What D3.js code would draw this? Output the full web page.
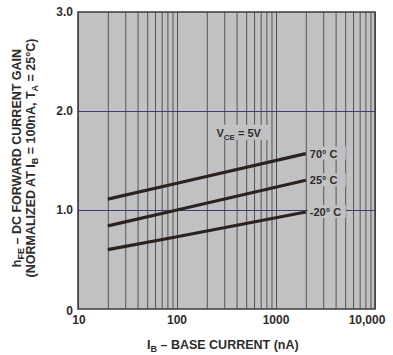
<!DOCTYPE html>
<html>
<head>
<meta charset="utf-8">
<script src="https://cdn.jsdelivr.net/npm/d3@7"></script>
<style>
  body { margin: 0; background: #fff; }
  text { font-family: "Liberation Sans", Arial, sans-serif; font-weight: bold; fill: #2e2c2c; }
</style>
</head>
<body>
<svg id="chart" width="393" height="355"></svg>
<script>
// base current (nA) and normalized gain for each temperature
const baseCurrent = [20, 100, 2000];
const gain70 = [1.11, 1.27, 1.57];
const gain25 = [0.84, 1.00, 1.30];
const gainMinus20 = [0.60, 0.73, 0.98];
const curveLabels = ['70° C', '25° C', '-20° C'];

const xTickValues = [10, 100, 1000, 10000];
const xTickLabels = ['10', '100', '1000', '10,000'];
const yTickValues = [0, 1, 2, 3];
const yTickLabels = ['0', '1.0', '2.0', '3.0'];

const margin = { left: 78, top: 12, right: 18, bottom: 46 };
const svg = d3.select('#chart');
const width = +svg.attr('width');
const height = +svg.attr('height');
const innerWidth = width - margin.left - margin.right;
const innerHeight = height - margin.top - margin.bottom;

// scales map straight to page coordinates
const x = d3.scaleLog().domain([10, 10000]).range([margin.left, margin.left + innerWidth]);
const y = d3.scaleLinear().domain([0, 3]).range([margin.top + innerHeight, margin.top]);

const plotBg = '#c1c0c3';
svg.append('rect')
  .attr('x', margin.left).attr('y', margin.top)
  .attr('width', innerWidth)
  .attr('height', innerHeight)
  .attr('fill', plotBg);

// log grid (every 1..9 per decade)
const xGrid = svg.append('g')
  .attr('transform', `translate(0,${margin.top + innerHeight})`)
  .call(d3.axisBottom(x).tickValues(x.ticks()).tickSize(-innerHeight).tickFormat(''));
xGrid.select('.domain').remove();
xGrid.selectAll('text').remove();
xGrid.selectAll('line').attr('stroke', '#48474b').attr('stroke-width', 0.9);

// horizontal lines at 1.0 and 2.0
const yGrid = svg.append('g')
  .attr('transform', `translate(${margin.left},0)`)
  .call(d3.axisLeft(y).tickValues([1, 2]).tickSize(-innerWidth).tickFormat(''));
yGrid.select('.domain').remove();
yGrid.selectAll('text').remove();
yGrid.selectAll('line').attr('stroke', '#3e3d6e').attr('stroke-width', 1.2);

svg.append('rect')
  .attr('x', margin.left).attr('y', margin.top)
  .attr('width', innerWidth)
  .attr('height', innerHeight)
  .attr('fill', 'none')
  .attr('stroke', '#3c3a40')
  .attr('stroke-width', 1.5);

// tick labels
svg.selectAll('text.ytick')
  .data(yTickValues)
  .enter().append('text')
  .attr('class', 'ytick')
  .attr('x', margin.left - 5)
  .attr('y', d => y(d) + 4 + (d === 0 ? 2 : 0))
  .attr('text-anchor', 'end')
  .style('font-size', '12px')
  .append('tspan')
  .text((d, i) => yTickLabels[i]);

svg.selectAll('text.xtick')
  .data(xTickValues)
  .enter().append('text')
  .attr('class', 'xtick')
  .attr('x', (d, i) => x(d) + (i === 0 ? 1 : 0) - (i === 3 ? 8 : 0))
  .attr('y', margin.top + innerHeight + 15)
  .attr('text-anchor', 'middle')
  .style('font-size', '12px')
  .append('tspan')
  .text((d, i) => xTickLabels[i]);

// curves
const line = d3.line()
  .x((d, i) => x(baseCurrent[i]))
  .y(d => y(d));

const curves = [gain70, gain25, gainMinus20];
svg.selectAll('path.curve')
  .data(curves)
  .enter().append('path')
  .attr('class', 'curve')
  .attr('d', line)
  .attr('fill', 'none')
  .attr('stroke', '#2a231f')
  .attr('stroke-width', 3.2);

// curve labels with background to hide grid
const lastX = x(baseCurrent[baseCurrent.length - 1]);
svg.selectAll('rect.labelbg')
  .data(curves)
  .enter().append('rect')
  .attr('class', 'labelbg')
  .attr('x', lastX + 2)
  .attr('y', d => y(d[d.length - 1]) - 7)
  .attr('width', 38).attr('height', 13)
  .attr('fill', plotBg);
svg.selectAll('text.curvelabel')
  .data(curves)
  .enter().append('text')
  .attr('class', 'curvelabel')
  .attr('x', lastX + 4)
  .attr('y', d => y(d[d.length - 1]) + 4)
  .style('font-size', '11px')
  .append('tspan')
  .text((d, i) => curveLabels[i]);

// VCE label
const vx = x(250), vy = y(1.77);
svg.append('rect').attr('x', vx - 2).attr('y', vy - 9).attr('width', 56).attr('height', 15).attr('fill', plotBg);
const vceText = svg.append('text').attr('x', vx).attr('y', vy + 3).style('font-size', '11px');
vceText.append('tspan').text('V');
vceText.append('tspan').attr('dy', 3).style('font-size', '8px').text('CE');
vceText.append('tspan').attr('dy', -3).text(' = 5V');

// x axis title
const xTitle = svg.append('text')
  .attr('x', 147)
  .attr('y', 349)
  .style('font-size', '12.5px');
xTitle.append('tspan').text('I');
xTitle.append('tspan').attr('dy', 3).style('font-size', '9px').text('B');
xTitle.append('tspan').attr('dy', -3).text(' – BASE CURRENT (nA)');

// y axis title, two lines
const yTitle1 = svg.append('text')
  .attr('transform', 'translate(21,158) rotate(-90)')
  .attr('text-anchor', 'middle')
  .style('font-size', '12.5px');
yTitle1.append('tspan').text('h');
yTitle1.append('tspan').attr('dy', 3).style('font-size', '9px').text('FE');
yTitle1.append('tspan').attr('dy', -3).text(' – DC FORWARD CURRENT GAIN');

const yTitle2 = svg.append('text')
  .attr('transform', 'translate(35,158) rotate(-90)')
  .attr('text-anchor', 'middle')
  .style('font-size', '12.5px');
yTitle2.append('tspan').text('(NORMALIZED AT I');
yTitle2.append('tspan').attr('dy', 3).style('font-size', '9px').text('B');
yTitle2.append('tspan').attr('dy', -3).text(' = 100nA, T');
yTitle2.append('tspan').attr('dy', 3).style('font-size', '9px').text('A');
yTitle2.append('tspan').attr('dy', -3).text(' = 25°C)');
</script>
</body>
</html>
